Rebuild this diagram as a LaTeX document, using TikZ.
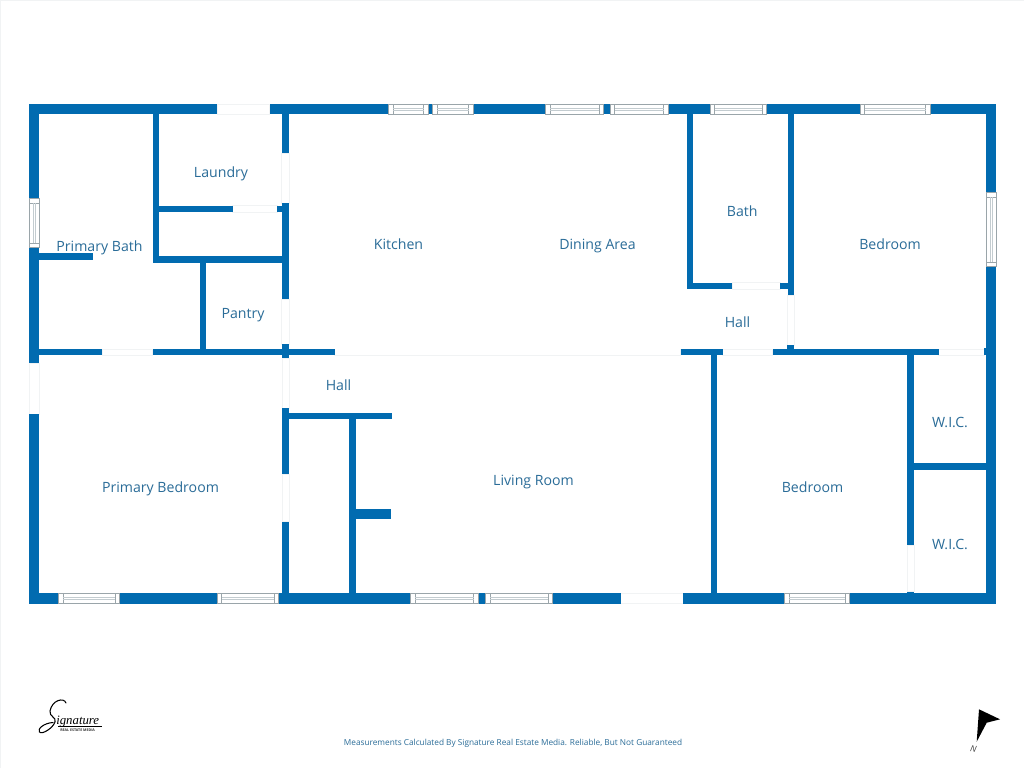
\documentclass[tikz,border=0pt]{standalone}
\usepackage{fontspec}
\setmainfont{Open Sans}
\newfontfamily\logofont{Liberation Serif}
\definecolor{wall}{HTML}{016BB0}
\definecolor{lbl}{HTML}{2A6C98}
\definecolor{winline}{HTML}{9AA5AA}
\definecolor{winmid}{HTML}{C3CCD0}
\definecolor{hair}{HTML}{F1F3F4}
\tikzset{
  x=0.75pt,y=-0.75pt,
  room/.style={text=lbl,font=\fontsize{10.6pt}{12pt}\selectfont,inner sep=0pt,anchor=base},
  hairline/.style={draw=hair,line width=0.5pt},
}
\newcommand{\hwin}[4]{%
  \fill[white] (#1,#3) rectangle (#2,#4);
  \draw[winline,line width=0.4pt] (#1,#3) rectangle (#2,#4);
  \draw[winline,line width=0.4pt] (#1+4.5,#3) -- (#1+4.5,#4) (#2-4.5,#3) -- (#2-4.5,#4);
  \draw[winmid,line width=0.4pt] (#1+4.5,{(#3+#4)/2-0.9}) -- (#2-4.5,{(#3+#4)/2-0.9}) (#1+4.5,{(#3+#4)/2+0.9}) -- (#2-4.5,{(#3+#4)/2+0.9});
}
\newcommand{\vwin}[4]{%
  \fill[white] (#3,#1) rectangle (#4,#2);
  \draw[winline,line width=0.4pt] (#3,#1) rectangle (#4,#2);
  \draw[winline,line width=0.4pt] (#3,#1+4.5) -- (#4,#1+4.5) (#3,#2-4.5) -- (#4,#2-4.5);
  \draw[winmid,line width=0.4pt] ({(#3+#4)/2-0.9},#1+4.5) -- ({(#3+#4)/2-0.9},#2-4.5) ({(#3+#4)/2+0.9},#1+4.5) -- ({(#3+#4)/2+0.9},#2-4.5);
}
\begin{document}
\begin{tikzpicture}
\useasboundingbox (0,0) rectangle (1024,768);
\fill[white] (0,0) rectangle (1024,768);
\draw[hair,line width=0.75pt] (0.5,768) -- (0.5,0.5) -- (1024,0.5);
% openings (hairlines)
\draw[hairline] (217.3,104.3) rectangle (269.7,114.3);
\draw[hairline] (281.7,153.3) rectangle (289,203.3);
\draw[hairline] (281.7,299) rectangle (289,344.3);
\draw[hairline] (232.7,205.7) rectangle (277.3,212.3);
\draw[hairline] (102.3,349) rectangle (152.7,355.3);
\draw[hairline] (29.3,363) rectangle (39.3,414);
\draw[hairline] (282.3,358) rectangle (289,408.3);
\draw[hairline] (282.3,474) rectangle (289,521.7);
\draw[hairline] (334.7,349) -- (334.7,355.3) -- (680.7,355.3) -- (680.7,349);
\draw[hairline] (722.7,349) rectangle (772.7,355.3);
\draw[hairline] (938.7,349) rectangle (984.3,355.3);
\draw[hairline] (732.3,282.7) rectangle (780,289);
\draw[hairline] (787.7,295) rectangle (794.3,345);
\draw[hairline] (620.7,593.3) rectangle (683.3,603.7);
\draw[hairline] (907.3,545) rectangle (914,591.7);
% outer top
\fill[wall] (29.3,104.3) rectangle (217.3,114.3);
\fill[wall] (269.7,104.3) rectangle (996,114.3);
% outer left
\fill[wall] (29.3,104.3) rectangle (39.3,198.3);
\fill[wall] (29.3,247.7) rectangle (39.3,363);
\fill[wall] (29.3,414) rectangle (39.3,603.7);
% outer right
\fill[wall] (986,104.3) rectangle (996,192.3);
\fill[wall] (986,266.7) rectangle (996,603.7);
\fill[wall] (984.3,348.3) rectangle (986,355.3);
% outer bottom
\fill[wall] (29.3,593.3) rectangle (620.7,603.7);
\fill[wall] (683.3,593.3) rectangle (996,603.7);
% primary bath stub
\fill[wall] (39.3,253.3) rectangle (93.3,259.7);
% mid horizontal
\fill[wall] (39.3,349) rectangle (102.3,355.3);
\fill[wall] (152.7,349) rectangle (334.7,355.3);
\fill[wall] (680.7,349) rectangle (722.7,355.3);
\fill[wall] (772.7,349) rectangle (938.7,355.3);
% laundry
\fill[wall] (152.7,114) rectangle (159.3,262.7);
\fill[wall] (159,205.7) rectangle (232.7,212.3);
\fill[wall] (277.3,205.7) rectangle (282,212.3);
\fill[wall] (152.7,256.3) rectangle (289,262.7);
\fill[wall] (200,262) rectangle (206,350);
\fill[wall] (281.7,114) rectangle (289,153.3);
\fill[wall] (281.7,203.3) rectangle (289,299);
\fill[wall] (281.7,344.3) rectangle (289,358.3);
% closet block
\fill[wall] (282.3,408.3) rectangle (289,474);
\fill[wall] (282.3,521.7) rectangle (289,594);
\fill[wall] (289,412.7) rectangle (391.7,419);
\fill[wall] (349.3,419) rectangle (356,594);
\fill[wall] (356,509.3) rectangle (391.3,518.7);
% bath
\fill[wall] (686.7,114) rectangle (693.3,289);
\fill[wall] (686.7,282.7) rectangle (732.3,289);
\fill[wall] (780,282.7) rectangle (788,289);
\fill[wall] (787.7,114) rectangle (794.3,295);
\fill[wall] (787.3,345) rectangle (794,349.5);
% bedroom 2 and closets
\fill[wall] (710.7,355) rectangle (717.3,594);
\fill[wall] (907.3,355) rectangle (914,545);
\fill[wall] (907.3,591.7) rectangle (914,594);
\fill[wall] (914,463.3) rectangle (986,470);
% windows
\hwin{388.3}{428}{104.3}{114.3}
\hwin{432.7}{473}{104.3}{114.3}
\hwin{545.7}{603.7}{104.3}{114.3}
\hwin{610}{668}{104.3}{114.3}
\hwin{710}{766.7}{104.3}{114.3}
\hwin{860}{930}{104.3}{114.3}
\hwin{58.3}{119.7}{593.3}{603.7}
\hwin{217}{278.3}{593.3}{603.7}
\hwin{410.7}{478}{593.3}{603.7}
\hwin{485.7}{552.7}{593.3}{603.7}
\hwin{784.7}{849.7}{593.3}{603.7}
\vwin{198.3}{247.7}{29.3}{39.3}
\vwin{192.3}{266.7}{986}{996}
% labels
\node[room] (primarybath) at (99.5,251) {Primary Bath};
\node[room] (laundry) at (221,177.7) {Laundry};
\node[room] (pantry) at (243,318.2) {Pantry};
\node[room] (kitchen) at (398.5,249) {Kitchen};
\node[room] (dining) at (597.5,249) {Dining Area};
\node[room] (bath) at (742.3,216.7) {Bath};
\node[room] (bedrooma) at (890,249) {Bedroom};
\node[room] (halla) at (737.5,327.3) {Hall};
\node[room] (hallb) at (338.5,390) {Hall};
\node[room] (primarybed) at (160.5,492.3) {Primary Bedroom};
\node[room] (living) at (533.5,485) {Living Room};
\node[room] (bedroomb) at (812.5,492.3) {Bedroom};
\node[room] (wica) at (950,427) {W.I.C.};
\node[room] (wicb) at (950,549.3) {W.I.C.};
\node[text=lbl,font=\fontsize{6.2pt}{8pt}\selectfont,inner sep=0pt,anchor=base] (note) at (513,745) {Measurements Calculated By Signature Real Estate Media. Reliable, But Not Guaranteed};
% north arrow
\fill[black] (979,709.3) -- (1000,719.3) -- (986.7,722.7) -- (976.7,741.7) -- cycle;
\node[font=\itshape\fontsize{6.5pt}{7pt}\selectfont,text=black!75,inner sep=0pt,rotate=-10] (north) at (973.5,748.5) {N};
% logo
\draw[black,line width=0.8pt,line cap=round]
  (66,703) .. controls (64,697) and (52,700) .. (50,711)
  .. controls (49,717) and (57,717) .. (55,722)
  .. controls (53,728) and (42,735) .. (39.5,732)
  .. controls (37,729) and (44,723) .. (53,722.5);
\node[anchor=base west,font=\logofont\itshape\fontsize{9.6pt}{10pt}\selectfont,text=black,inner sep=0pt] (logotext) at (56,724.5) {ignature};
\draw[black,line width=0.3pt] (58,726) -- (102,726);
\node[anchor=base west,font=\bfseries\fontsize{2.7pt}{3pt}\selectfont,text=black!80,inner sep=0pt] (logosub) at (60,731) {REAL ESTATE MEDIA};
\end{tikzpicture}
\end{document}
